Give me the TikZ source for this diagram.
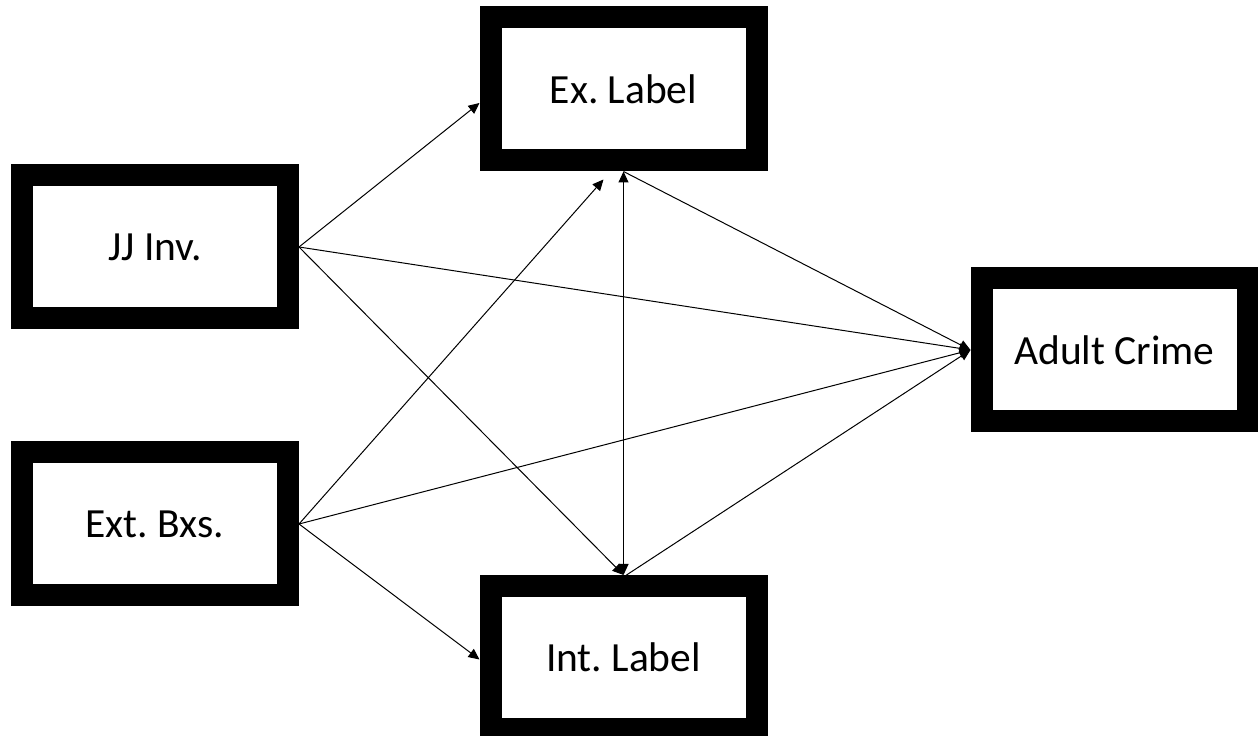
\documentclass[tikz,border=0pt]{standalone}
\usepackage{fontspec}
\setmainfont{Carlito}
\usetikzlibrary{arrows.meta}
\frenchspacing
\begin{document}
\begin{tikzpicture}[x=1pt,y=1pt,
  varbox/.style={draw=black,line width=22pt,fill=white,rectangle,
    minimum width=266pt,minimum height=143pt,inner sep=0pt,
    font=\fontsize{41.5}{50}\selectfont},
  conn/.style={line width=1pt,-{Triangle[length=11pt,width=10pt]}},
  biconn/.style={line width=1pt,{Triangle[length=11pt,width=10pt]}-{Triangle[length=11pt,width=10pt]}}]
\useasboundingbox (0,0) rectangle (1258,736);
\node[varbox] (jj) at (155,489) {JJ Inv.};
\node[varbox] (ext) at (155,212) {Ext. Bxs.};
\node[varbox] (exl) at (623.5,647) {Ex. Label};
\node[varbox] (intl) at (623.5,78.5) {Int. Label};
\node[varbox] (adult) at (1114.5,386) {Adult Crime};
\draw[conn] (jj.east) -- ([yshift=-14pt]exl.west);
\draw[conn] (jj.east) -- (adult.west);
\draw[conn] (jj.east) -- (intl.north);
\draw[conn] (ext.east) -- ([xshift=-20pt,yshift=-8pt]exl.south);
\draw[conn] (ext.east) -- (adult.west);
\draw[conn] (ext.east) -- ([yshift=-2pt]intl.west);
\draw[biconn] (exl.south) -- (intl.north);
\draw[conn] (exl.south) -- (adult.west);
\draw[conn] ([xshift=3pt]intl.north) -- (adult.west);
\end{tikzpicture}
\end{document}
